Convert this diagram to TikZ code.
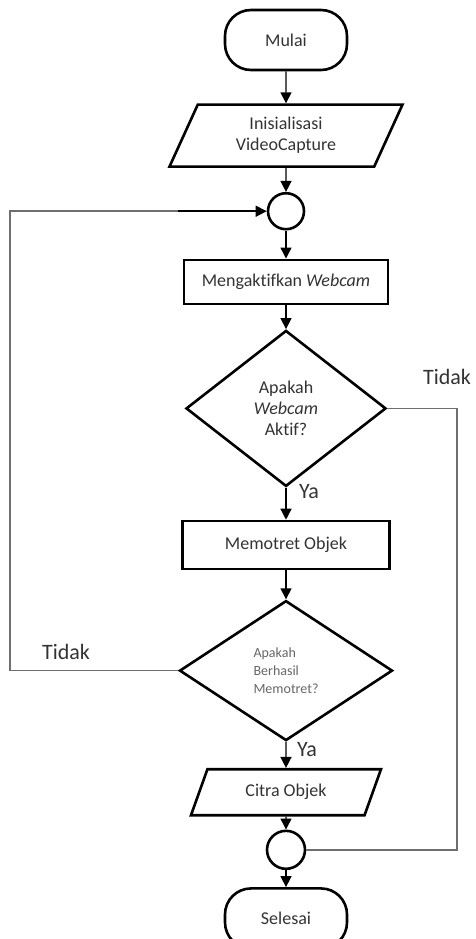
\documentclass[tikz,border=0pt]{standalone}
\usepackage{fontspec}
\setsansfont{Carlito}[Ligatures=NoCommon]
\usetikzlibrary{shapes.geometric, arrows.meta, positioning}
\definecolor{ink}{HTML}{333333}
\definecolor{wire}{HTML}{6e6e6e}

\begin{document}
\begin{tikzpicture}[x=1pt, y=-1pt,
    base/.style={draw=black, line width=2.6pt, font=\fontsize{18}{21}\selectfont\sffamily,
                 text=ink, inner sep=2pt, align=center},
    terminal/.style={base, rectangle, rounded corners=26pt, minimum width=122pt, minimum height=60pt},
    process/.style={base, rectangle, minimum width=204pt, minimum height=44pt},
    io/.style={base, trapezium, trapezium stretches body=true, minimum height=62pt},
    decision/.style={base, diamond, inner sep=0pt},
    junction/.style={draw=black, line width=2.6pt, circle, minimum size=36pt, inner sep=0pt},
    flow/.style={-{Triangle[length=11pt, width=11pt]}, line width=1.4pt, black},
    loopline/.style={line width=1.5pt, wire},
    lbl/.style={font=\fontsize{22}{24}\selectfont\sffamily, text=ink, inner sep=0pt}
]
    \useasboundingbox (0,0) rectangle (476,939);

    \node[terminal] (mulai) at (286,40) {Mulai};
    \node[io, trapezium left angle=55, trapezium right angle=125, minimum width=233pt,
          below=32pt of mulai] (init) {Inisialisasi\\VideoCapture};
    \node[junction, below=24pt of init] (junc1) {};
    \node[process, below=28pt of junc1] (webcam) {Mengaktifkan \textit{Webcam}};
    \node[decision, minimum width=200pt, minimum height=156pt,
          below=24pt of webcam] (cek) {Apakah\\\textit{Webcam}\\Aktif?};
    \node[process, minimum width=207pt, minimum height=48pt,
          below=32pt of cek] (foto) {Memotret Objek};
    \node[decision, minimum width=213pt, minimum height=140pt, align=left, text=black!60,
          font=\fontsize{14}{18}\selectfont\sffamily,
          below=29pt of foto] (hasil) {Apakah\\Berhasil\\Memotret?};
    \node[io, trapezium left angle=50, trapezium right angle=130, minimum width=190pt,
          minimum height=46pt, below=26pt of hasil] (citra) {Citra Objek};
    \node[junction, minimum size=38pt, below=13pt of citra] (junc2) {};
    \node[terminal, below=17pt of junc2] (selesai) {Selesai};

    % labels
    \node[lbl] (tidak1) at (447,377) {Tidak};
    \node[lbl] (tidak2) at (66,652) {Tidak};
    \node[lbl] (ya1) at (309,492) {Ya};
    \node[lbl] (ya2) at (307,750) {Ya};

    \coordinate (kiri) at (10,0);
    \coordinate (kanan) at (457,0);

    \draw[flow] (mulai) -- (init);
    \draw[flow] (init) -- (junc1);
    \draw[flow] (junc1) -- (webcam);
    \draw[flow] (webcam) -- (cek);
    \draw[flow] (cek) -- (foto);
    \draw[flow] (foto) -- (hasil);
    \draw[flow] (hasil) -- (citra);
    \draw[flow] (citra) -- (junc2);
    \draw[flow] (junc2) -- (selesai);

    \draw[loopline] (cek.east) -- (cek.east -| kanan) |- (junc2.east);
    \draw[loopline] (hasil.west) -- (hasil.west -| kiri) |- (junc1.west -| hasil.west);
    \draw[flow, line width=1.5pt] (junc1.west -| hasil.west) -- (junc1.west);
\end{tikzpicture}
\end{document}
